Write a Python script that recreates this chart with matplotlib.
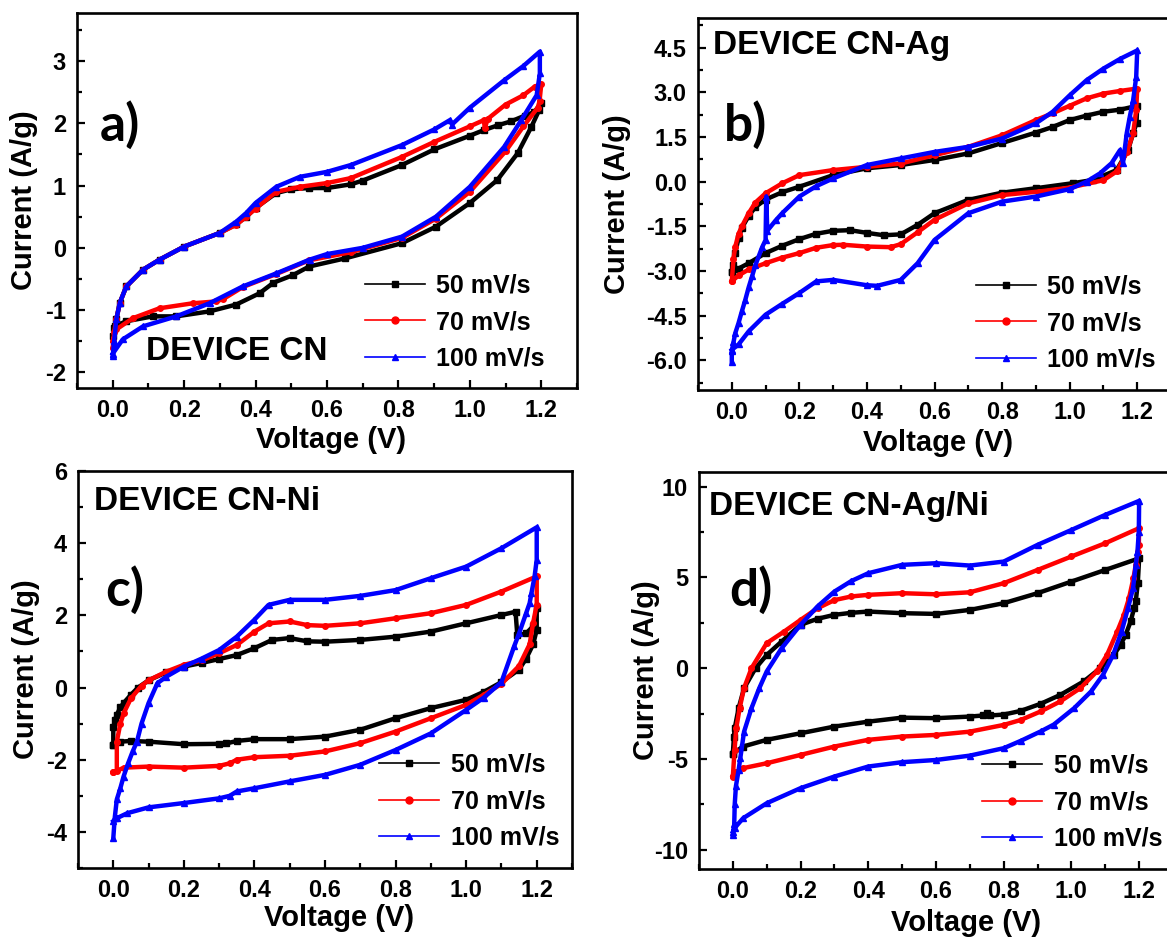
import matplotlib
matplotlib.use("Agg")
import matplotlib.pyplot as plt
from matplotlib.lines import Line2D
from matplotlib.ticker import MultipleLocator, FormatStrFormatter

plt.rcParams['font.family'] = ['Liberation Sans', 'DejaVu Sans']
plt.rcParams['font.weight'] = 'bold'
plt.rcParams['axes.unicode_minus'] = False

# scan rates / legend
rates = ['50 mV/s', '70 mV/s', '100 mV/s']
colors = ['black', 'red', 'blue']
markers = ['s', 'o', '^']

# ---- panel a : DEVICE CN  (voltage V, current A/g), anodic then cathodic sweep
a50 = [(0.0, -1.42), (0.004, -1.28), (0.01, -1.15), (0.02, -0.88), (0.038, -0.62), (0.085, -0.35),
       (0.131, -0.19), (0.2, 0.02), (0.3, 0.24), (0.346, 0.38), (0.374, 0.5), (0.4, 0.64), (0.458, 0.88),
       (0.5, 0.94), (0.55, 0.96), (0.6, 0.96), (0.667, 1.02), (0.7, 1.08), (0.81, 1.33), (0.9, 1.58),
       (1.0, 1.8), (1.039, 1.89), (1.08, 1.97), (1.115, 2.03), (1.153, 2.12), (1.18, 2.18), (1.2, 2.32),
       (1.194, 2.21), (1.172, 1.94), (1.134, 1.52), (1.077, 1.09), (1.0, 0.72), (0.905, 0.34),
       (0.81, 0.075), (0.65, -0.17), (0.55, -0.3), (0.504, -0.44), (0.45, -0.56), (0.411, -0.73),
       (0.346, -0.91), (0.271, -1.02), (0.178, -1.1), (0.112, -1.1), (0.037, -1.18), (0.005, -1.26)]
a70 = [(0.0, -1.6), (0.004, -1.35), (0.01, -1.15), (0.02, -0.88), (0.038, -0.62), (0.085, -0.35),
       (0.131, -0.19), (0.2, 0.02), (0.3, 0.24), (0.346, 0.37), (0.374, 0.5), (0.4, 0.63), (0.458, 0.9),
       (0.524, 0.98), (0.6, 1.04), (0.667, 1.12), (0.81, 1.46), (0.9, 1.7), (1.0, 1.95), (1.039, 2.05),
       (1.042, 1.92), (1.05, 2.07), (1.1, 2.3), (1.15, 2.45), (1.182, 2.59), (1.2, 2.63),
       (1.195, 2.35), (1.19, 2.25), (1.15, 1.95), (1.1, 1.55), (1.0, 0.9), (0.905, 0.47), (0.81, 0.16),
       (0.667, -0.07), (0.55, -0.2), (0.458, -0.42), (0.364, -0.63), (0.31, -0.82), (0.29, -0.86),
       (0.224, -0.89), (0.131, -0.97), (0.056, -1.13), (0.01, -1.31), (0.0, -1.5)]
a100 = [(0.0, -1.74), (0.004, -1.5), (0.01, -1.15), (0.02, -0.88), (0.038, -0.62), (0.085, -0.35),
        (0.131, -0.19), (0.2, 0.02), (0.3, 0.24), (0.346, 0.42), (0.374, 0.56), (0.4, 0.72), (0.458, 0.98),
        (0.524, 1.14), (0.6, 1.22), (0.667, 1.33), (0.81, 1.65), (0.9, 1.9), (0.944, 2.05), (0.95, 1.98),
        (1.0, 2.25), (1.096, 2.69), (1.15, 2.92), (1.196, 3.15),
        (1.196, 2.8), (1.187, 2.45), (1.144, 2.05), (1.096, 1.62), (1.0, 0.98), (0.905, 0.5),
        (0.81, 0.18), (0.7, 0.0), (0.6, -0.1), (0.551, -0.19), (0.458, -0.41), (0.364, -0.62),
        (0.271, -0.89), (0.178, -1.1), (0.085, -1.26), (0.028, -1.47), (0.0, -1.7)]

# ---- panel b : DEVICE CN-Ag
b50 = [(0.0, -3.05), (0.003, -2.8), (0.01, -2.4), (0.02, -1.9), (0.03, -1.55), (0.05, -1.15),
       (0.07, -0.85), (0.1, -0.6), (0.15, -0.35), (0.2, -0.17), (0.3, 0.22), (0.4, 0.45), (0.5, 0.56),
       (0.6, 0.73), (0.7, 0.95), (0.8, 1.3), (0.9, 1.65), (0.95, 1.84), (1.0, 2.07), (1.05, 2.22),
       (1.1, 2.35), (1.15, 2.42), (1.2, 2.55),
       (1.198, 1.97), (1.188, 1.63), (1.173, 1.06), (1.139, 0.39), (1.07, 0.06), (1.01, -0.05),
       (0.9, -0.22), (0.8, -0.37), (0.7, -0.61), (0.6, -1.06), (0.55, -1.45), (0.5, -1.77), (0.45, -1.8),
       (0.4, -1.72), (0.35, -1.63), (0.3, -1.65), (0.25, -1.75), (0.2, -1.93), (0.15, -2.15),
       (0.1, -2.4), (0.05, -2.74), (0.02, -2.92), (0.0, -3.02)]
b70 = [(0.0, -3.35), (0.005, -2.6), (0.01, -2.2), (0.02, -1.75), (0.03, -1.5), (0.05, -1.06),
       (0.07, -0.7), (0.1, -0.39), (0.15, -0.05), (0.2, 0.22), (0.3, 0.39), (0.4, 0.5), (0.5, 0.61),
       (0.6, 0.89), (0.7, 1.17), (0.8, 1.56), (0.9, 2.07), (0.95, 2.3), (1.0, 2.55), (1.05, 2.8),
       (1.1, 2.96), (1.15, 3.05), (1.2, 3.13),
       (1.197, 2.4), (1.188, 1.63), (1.17, 1.0), (1.14, 0.35), (1.1, 0.05), (1.0, -0.2), (0.91, -0.33),
       (0.8, -0.45), (0.7, -0.73), (0.6, -1.28), (0.55, -1.7), (0.5, -2.1), (0.47, -2.2), (0.4, -2.18),
       (0.33, -2.12), (0.3, -2.13), (0.25, -2.22), (0.2, -2.4), (0.15, -2.55), (0.1, -2.74),
       (0.05, -2.95), (0.02, -3.15), (0.0, -3.35)]
b100 = [(0.0, -6.05), (0.0, -5.7), (0.005, -5.4), (0.01, -5.1), (0.02, -4.75), (0.03, -4.35),
        (0.04, -3.97), (0.05, -3.55), (0.06, -3.18), (0.07, -2.8), (0.09, -2.2), (0.1, -1.96),
        (0.102, -0.5), (0.105, -1.65), (0.13, -1.3), (0.15, -1.05), (0.2, -0.5), (0.25, -0.15),
        (0.3, 0.11), (0.4, 0.56), (0.5, 0.78), (0.6, 1.0), (0.7, 1.17), (0.8, 1.45), (0.9, 1.96),
        (0.95, 2.35), (1.0, 2.9), (1.05, 3.41), (1.1, 3.8), (1.15, 4.13), (1.2, 4.41),
        (1.197, 3.52), (1.188, 2.74), (1.178, 2.18), (1.169, 1.63), (1.158, 0.63), (1.149, 1.06),
        (1.124, 0.62), (1.09, 0.28), (1.05, 0.0), (1.0, -0.25), (0.9, -0.5), (0.8, -0.67),
        (0.7, -1.06), (0.6, -1.96), (0.55, -2.74), (0.5, -3.3), (0.43, -3.5), (0.4, -3.48),
        (0.3, -3.3), (0.25, -3.35), (0.2, -3.74), (0.15, -4.1), (0.1, -4.47), (0.05, -5.03),
        (0.02, -5.47), (0.0, -5.65)]

# ---- panel c : DEVICE CN-Ni
c50 = [(0.0, -1.6), (0.0, -1.1), (0.005, -0.9), (0.01, -0.75), (0.02, -0.55), (0.03, -0.42),
       (0.05, -0.2), (0.07, 0.0), (0.1, 0.2), (0.15, 0.42), (0.2, 0.58), (0.25, 0.68), (0.3, 0.79),
       (0.35, 0.9), (0.4, 1.09), (0.45, 1.32), (0.5, 1.37), (0.55, 1.28), (0.6, 1.27), (0.7, 1.32),
       (0.8, 1.41), (0.9, 1.55), (1.0, 1.78), (1.1, 2.01), (1.14, 2.1), (1.145, 1.45), (1.17, 1.5),
       (1.19, 1.7), (1.2, 2.2),
       (1.2, 1.6), (1.19, 1.2), (1.17, 0.8), (1.15, 0.5), (1.1, 0.15), (1.05, -0.12), (1.0, -0.34),
       (0.9, -0.57), (0.8, -0.85), (0.7, -1.17), (0.6, -1.36), (0.5, -1.43), (0.4, -1.43),
       (0.35, -1.48), (0.32, -1.55), (0.3, -1.56), (0.2, -1.57), (0.1, -1.5), (0.05, -1.48),
       (0.02, -1.5), (0.0, -1.6)]
c70 = [(0.0, -2.35), (0.01, -2.3), (0.01, -1.5), (0.02, -1.0), (0.03, -0.7), (0.05, -0.3),
       (0.08, 0.05), (0.1, 0.2), (0.15, 0.44), (0.2, 0.63), (0.25, 0.75), (0.3, 0.95), (0.35, 1.18),
       (0.4, 1.55), (0.44, 1.78), (0.5, 1.83), (0.55, 1.73), (0.6, 1.71), (0.7, 1.78), (0.8, 1.92),
       (0.9, 2.06), (1.0, 2.29), (1.1, 2.66), (1.2, 3.08),
       (1.2, 2.3), (1.19, 1.8), (1.18, 1.2), (1.15, 0.6), (1.1, 0.1), (1.05, -0.2), (1.0, -0.48),
       (0.9, -0.85), (0.8, -1.22), (0.7, -1.54), (0.6, -1.77), (0.5, -1.89), (0.4, -1.93),
       (0.35, -2.0), (0.33, -2.1), (0.3, -2.17), (0.2, -2.22), (0.1, -2.19), (0.03, -2.22), (0.0, -2.35)]
c100 = [(0.0, -4.18), (0.004, -3.62), (0.01, -3.1), (0.02, -2.79), (0.029, -2.47), (0.042, -2.1),
        (0.055, -1.77), (0.067, -1.5), (0.08, -1.0), (0.1, -0.43), (0.125, 0.12), (0.15, 0.3),
        (0.2, 0.58), (0.25, 0.8), (0.3, 1.04), (0.35, 1.41), (0.4, 1.88), (0.44, 2.29), (0.5, 2.43),
        (0.6, 2.43), (0.7, 2.54), (0.8, 2.7), (0.9, 3.03), (1.0, 3.35), (1.1, 3.86), (1.2, 4.44),
        (1.2, 3.54), (1.194, 3.08), (1.185, 2.61), (1.18, 2.34), (1.17, 2.06), (1.15, 1.5),
        (1.136, 1.14), (1.1, 0.15), (1.05, -0.28), (1.0, -0.62), (0.9, -1.27), (0.8, -1.73),
        (0.7, -2.14), (0.6, -2.42), (0.5, -2.6), (0.4, -2.79), (0.35, -2.88), (0.33, -3.0),
        (0.3, -3.07), (0.2, -3.2), (0.1, -3.32), (0.04, -3.48), (0.01, -3.62), (0.0, -3.7)]

# ---- panel d : DEVICE CN-Ag/Ni
d50 = [(0.0, -4.7), (0.003, -3.8), (0.0055, -3.3), (0.017, -2.2), (0.033, -1.1), (0.067, 0.0),
       (0.1, 0.73), (0.144, 1.47), (0.2, 2.39), (0.25, 2.72), (0.3, 2.94), (0.35, 3.05), (0.4, 3.12),
       (0.5, 3.03), (0.6, 2.99), (0.7, 3.21), (0.8, 3.58), (0.9, 4.13), (1.0, 4.77), (1.1, 5.41),
       (1.2, 6.05),
       (1.196, 4.67), (1.19, 3.68), (1.185, 3.3), (1.175, 2.58), (1.16, 1.83), (1.145, 1.28),
       (1.125, 0.73), (1.085, 0.0), (1.036, -0.73), (0.967, -1.47), (0.91, -1.95), (0.85, -2.35),
       (0.8, -2.55), (0.76, -2.6), (0.75, -2.45), (0.74, -2.6), (0.7, -2.66), (0.6, -2.75),
       (0.5, -2.72), (0.4, -2.94), (0.3, -3.21), (0.2, -3.58), (0.1, -3.94), (0.03, -4.31), (0.0, -4.7)]
d70 = [(0.0, -5.96), (0.005, -4.5), (0.01, -3.3), (0.02, -2.2), (0.033, -1.1), (0.055, 0.0),
       (0.1, 1.38), (0.15, 2.0), (0.2, 2.66), (0.25, 3.3), (0.3, 3.75), (0.35, 3.95), (0.4, 4.04),
       (0.5, 4.13), (0.6, 4.07), (0.7, 4.18), (0.8, 4.68), (0.9, 5.41), (1.0, 6.15), (1.1, 6.88),
       (1.2, 7.71),
       (1.199, 6.8), (1.196, 6.4), (1.19, 5.68), (1.183, 4.95), (1.17, 3.85), (1.155, 2.93),
       (1.135, 2.01), (1.105, 0.73), (1.075, -0.18), (1.026, -1.1), (0.967, -1.83), (0.909, -2.38),
       (0.85, -2.85), (0.8, -3.12), (0.7, -3.49), (0.6, -3.67), (0.5, -3.76), (0.4, -3.94),
       (0.3, -4.31), (0.2, -4.77), (0.1, -5.23), (0.03, -5.5), (0.01, -5.7), (0.0, -5.95)]
d100 = [(0.0, -9.2), (0.004, -8.6), (0.0055, -7.5), (0.009, -6.5), (0.017, -5.6), (0.022, -4.95),
        (0.033, -3.5), (0.055, -2.2), (0.078, -1.1), (0.1, -0.18), (0.144, 1.1), (0.2, 2.39),
        (0.25, 3.4), (0.3, 4.22), (0.35, 4.8), (0.4, 5.23), (0.5, 5.69), (0.6, 5.78), (0.7, 5.65),
        (0.8, 5.87), (0.9, 6.79), (1.0, 7.61), (1.1, 8.44), (1.2, 9.21),
        (1.199, 7.5), (1.195, 6.4), (1.19, 5.68), (1.182, 4.4), (1.167, 3.3), (1.148, 2.01),
        (1.123, 0.73), (1.093, -0.37), (1.058, -1.28), (1.008, -2.2), (0.948, -3.1), (0.909, -3.48),
        (0.85, -4.0), (0.8, -4.4), (0.7, -4.81), (0.6, -5.05), (0.5, -5.17), (0.4, -5.41),
        (0.3, -5.96), (0.2, -6.6), (0.1, -7.43), (0.03, -8.26), (0.005, -8.8), (0.0, -9.0)]

W, H = 1167, 939
fig = plt.figure(figsize=(W / 100, H / 100), dpi=100)


def px_axes(left, top, right, bottom):
    # axes box from pixel edges of the original picture
    return fig.add_axes([left / W, 1 - bottom / H, (right - left) / W, (bottom - top) / H])


panels = [
    dict(box=(77, 13, 577, 388), curves=[a50, a70, a100], ylim=(-2.25, 3.77), ymaj=1, ymin=0.5,
         yfmt='%d', letter='a)', letter_xy=(0.045, 0.70), title='DEVICE CN', title_xy=(0.138, 0.096),
         leg_xy=(0.575, 0.305), ylab_x=-0.078, xlab_xy=(0.508, -0.10)),
    dict(box=(698, 18, 1171, 390), curves=[b50, b70, b100], ylim=(-7.0, 5.5), ymaj=1.5, ymin=0.75,
         yfmt='%.1f', letter='b)', letter_xy=(0.055, 0.712), title='DEVICE CN-Ag', title_xy=(0.032, 0.927),
         leg_xy=(0.587, 0.31), ylab_x=-0.141, xlab_xy=(0.507, -0.104)),
    dict(box=(78, 471, 572, 868), curves=[c50, c70, c100], ylim=(-5.0, 6.0), ymaj=2, ymin=1,
         yfmt='%d', letter='c)', letter_xy=(0.055, 0.70), title='DEVICE CN-Ni', title_xy=(0.032, 0.922),
         leg_xy=(0.61, 0.29), ylab_x=-0.077, xlab_xy=(0.528, -0.09)),
    dict(box=(699, 472, 1173, 869), curves=[d50, d70, d100], ylim=(-11.05, 10.8), ymaj=5, ymin=2.5,
         yfmt='%d', letter='d)', letter_xy=(0.063, 0.703), title='DEVICE CN-Ag/Ni', title_xy=(0.021, 0.912),
         leg_xy=(0.598, 0.29), ylab_x=-0.083, xlab_xy=(0.563, -0.10)),
]

for p in panels:
    ax = px_axes(*p['box'])
    for pts, c, m in zip(p['curves'], colors, markers):
        v = [q[0] for q in pts]
        i = [q[1] for q in pts]
        ax.plot(v, i, color=c, lw=3.2, marker=m, ms=4, mec=c, mfc=c, solid_joinstyle='round')
    ax.set_xlim(-0.1, 1.3)
    ax.set_ylim(*p['ylim'])
    ax.xaxis.set_major_locator(MultipleLocator(0.2))
    ax.xaxis.set_minor_locator(MultipleLocator(0.1))
    ax.xaxis.set_major_formatter(FormatStrFormatter('%.1f'))
    ax.yaxis.set_major_locator(MultipleLocator(p['ymaj']))
    ax.yaxis.set_minor_locator(MultipleLocator(p['ymin']))
    ax.yaxis.set_major_formatter(FormatStrFormatter(p['yfmt']))
    ax.tick_params(which='both', direction='in', top=False, right=False, width=1.6, labelsize=17, pad=8)
    ax.tick_params(which='major', length=6)
    ax.tick_params(which='minor', length=3.5)
    for s in ax.spines.values():
        s.set_linewidth(1.9)
    for lab in ax.get_xticklabels() + ax.get_yticklabels():
        lab.set_fontweight('bold')

    ax.set_xlabel('Voltage (V)', fontsize=21, fontweight='bold')
    ax.set_ylabel('Current (A/g)', fontsize=21, fontweight='bold')
    ax.xaxis.set_label_coords(*p['xlab_xy'])
    ax.yaxis.set_label_coords(p['ylab_x'], 0.5)

    ax.text(*p['letter_xy'], p['letter'], transform=ax.transAxes, fontsize=37, fontweight='bold',
            family=['Lato', 'DejaVu Sans'], va='center', ha='left')
    ax.text(*p['title_xy'], p['title'], transform=ax.transAxes, fontsize=24, fontweight='bold',
            va='center', ha='left')

    handles = [Line2D([0], [0], color=c, lw=1.2, marker=m, ms=5, mec=c, mfc=c)
               for c, m in zip(colors, markers)]
    ax.legend(handles, rates, loc='upper left', bbox_to_anchor=p['leg_xy'], frameon=False,
              fontsize=18, handlelength=2.4, handletextpad=0.45, labelspacing=0.5,
              borderpad=0, borderaxespad=0, prop={'weight': 'bold', 'size': 18})

fig.savefig('out.png', dpi=100)
